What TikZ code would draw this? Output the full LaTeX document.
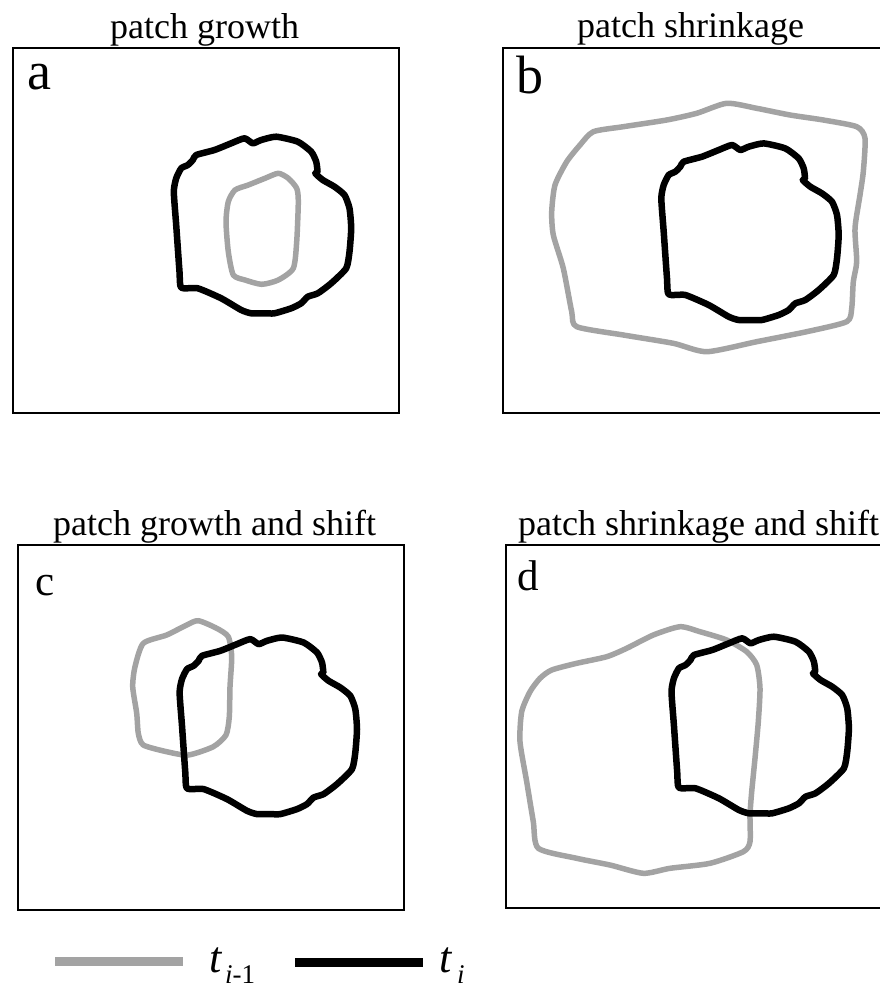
\documentclass[tikz,border=0pt]{standalone}
\usepackage{fontspec}
\setmainfont{Liberation Serif}
\tikzset{
  x=1pt, y=-1pt,
  frame/.style={draw=black, line width=2.2pt},
  newpatch/.style={draw=black, line width=6.5pt, line join=round},
  oldpatch/.style={draw=black!36, line width=5.5pt, line join=round},
  paneltitle/.style={anchor=base west, inner sep=0pt, font=\fontsize{36}{40}\selectfont},
  biglabel/.style={anchor=base west, inner sep=0pt, font=\fontsize{54}{60}\selectfont},
  smalllabel/.style={anchor=base west, inner sep=0pt, font=\fontsize{43}{48}\selectfont},
  legendt/.style={anchor=base west, inner sep=0pt, font=\fontsize{44}{48}\selectfont\itshape},
  legendsub/.style={anchor=base west, inner sep=0pt, font=\fontsize{27}{30}\selectfont},
}
\begin{document}
\begin{tikzpicture}
\useasboundingbox (0,0) rectangle (880,988);

% panel frames
\draw[frame] (13,48) rectangle (399,413);
\draw[frame] (503,48) rectangle (900,413);
\draw[frame] (18,545) rectangle (404,910);
\draw[frame] (506,545) rectangle (900,908);

% titles
\node[paneltitle] (ta) at (110,38) {patch growth};
\node[paneltitle] (tb) at (577,37) {patch shrinkage};
\node[paneltitle] (tc) at (53,535) {patch growth and shift};
\node[paneltitle] (td) at (518,535) {patch shrinkage and shift};

% panel labels
\node[biglabel] (la) at (27,89) {a};
\node[biglabel] (lb) at (516,93) {b};
\node[smalllabel] (lc) at (35,595) {c};
\node[smalllabel] (ld) at (517,590) {d};

% previous patches (t_{i-1})
\draw[oldpatch] plot[smooth cycle, tension=0.4] coordinates {
 (278.3,173.3) (265,178.3) (248.3,185) (235,190) (228.3,201.7) (226,221.7)
 (228.3,251.7) (233.3,275) (245,280) (261.7,284.3) (278.3,280) (293.3,268.3)
 (296.7,241.7) (298.3,201.7) (296.7,188.3) (288.3,178.3)};

\draw[oldpatch] plot[smooth cycle, tension=0.4] coordinates {
 (593.3,131.7) (623.3,126.7) (666.7,120) (696.7,113.3) (726.7,103.3) (756.7,108.3)
 (790,115) (823.3,120) (856.7,126.7) (865,138.3) (863.3,171.7) (860,195)
 (855,228.3) (856.7,261.7) (853.3,281.7) (851.7,308.3) (846.7,321.7) (806.7,331.7)
 (756.7,341.7) (706.7,351.7) (673.3,343.3) (623.3,335) (576.7,326.7) (571.7,311.7)
 (563.3,268.3) (553.3,235) (551.7,211.7) (555,185) (566.7,161.7) (580,145)};

\draw[oldpatch] plot[smooth cycle, tension=0.4] coordinates {
 (143.3,643.3) (166.7,635) (186.7,625) (198.3,620.7) (216.7,628.3) (228.3,636.7)
 (231.7,656.7) (230,686.7) (229.3,716.7) (226,735) (213.3,746.7) (188.3,755)
 (166.7,751.7) (143.3,745) (138.3,733.3) (136.7,713.3) (132.7,686.7) (135,666.7)};

\draw[oldpatch] plot[smooth cycle, tension=0.4] coordinates {
 (551.7,670) (576.7,663.3) (606.7,656.7) (626.7,648.3) (653.3,635) (680,626.7)
 (700,631.7) (726.7,640) (746.7,651.7) (756.7,665) (760,688.3) (758.3,721.7)
 (755,758.3) (751.7,791.7) (750,815) (750,841.7) (743.3,851.7) (710,863.3)
 (670,868.3) (643.3,873.3) (610,865) (576.7,858.3) (538.3,848.3) (533.3,821.7)
 (526.7,781.7) (520,741.7) (521.7,711.7) (530,691.7) (540,678.3)};

% current patches (t_i), same outline in every panel
\foreach \sx/\sy in {262.5/225, 750/231.7, 268.3/725.8, 760.2/725}{
  \draw[newpatch, shift={(\sx,\sy)}] plot[smooth cycle, tension=0.35] coordinates {
   (-66.3,-70) (-48,-75) (-31.3,-81.7) (-18,-86.7) (-9.7,-81.7) (-1.3,-85)
   (13.7,-88.3) (35.3,-83.3) (48.7,-73.3) (53.7,-63.3) (55,-53) (52.7,-51.7)
   (60.3,-45) (72,-38.3) (82,-30) (87,-16.7) (88.7,3.3) (87,26.7) (83.7,43.3)
   (68.7,58.3) (55.3,68.3) (45.3,71.7) (38.7,78.3) (28.7,83.3) (12,88.3)
   (2,88.3) (-11.3,88.3) (-21.3,85) (-41.3,73.3) (-64.7,63.3) (-81.3,62.7)
   (-83,46.7) (-86.3,0) (-88.7,-33.3) (-86.3,-46.7) (-81.3,-56.7) (-74.7,-60)
   (-69.7,-65)};
}

% legend
\coordinate (g1) at (55,961);
\coordinate (g2) at (183,961);
\coordinate (k1) at (295,962.5);
\coordinate (k2) at (423,962.5);
\draw[draw=black!36, line width=9pt] (g1) -- (g2);
\draw[draw=black, line width=8.5pt] (k1) -- (k2);
\node[legendt] (t1) at (209,972) {t};
\node[legendsub] (s1) at (225,983) {\textit{i}-1};
\node[legendt] (t2) at (439,972) {t};
\node[legendsub] (s2) at (457,983) {\textit{i}};
\end{tikzpicture}
\end{document}
